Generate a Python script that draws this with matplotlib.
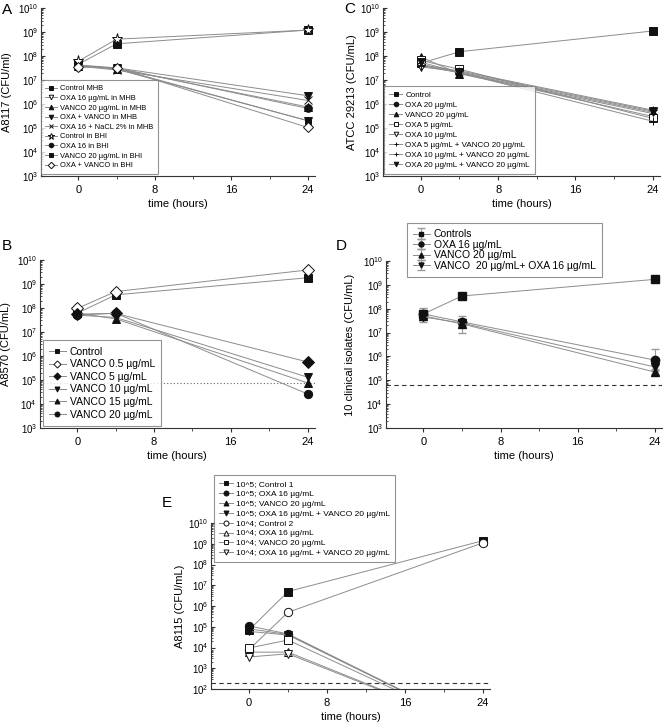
import numpy as np
import matplotlib.pyplot as plt
from matplotlib.ticker import LogLocator

plt.rcParams['font.family'] = ['Liberation Sans', 'DejaVu Sans']

hours = [0, 4, 24]

# panel A - A8117
a_labels = ["Control MHB", "OXA 16 µg/mL in MHB", "VANCO 20 µg/mL in MHB",
            "OXA + VANCO in MHB", "OXA 16 + NaCL 2% in MHB", "Control in BHI",
            "OXA 16 in BHI", "VANCO 20 µg/mL in BHI", "OXA + VANCO in BHI"]
a_control_mhb = [4.5e7, 3.2e8, 1.2e9]
a_oxa_mhb = [4.0e7, 2.8e7, 2.0e5]
a_vanco_mhb = [4.0e7, 3.0e7, 7.5e5]
a_combo_mhb = [4.2e7, 3.2e7, 2.2e6]
a_nacl_mhb = [3.8e7, 2.6e7, 1.4e6]
a_control_bhi = [6.0e7, 5.0e8, 1.2e9]
a_oxa_bhi = [3.5e7, 3.2e7, 6.5e5]
a_vanco_bhi = [4.0e7, 3.0e7, 2.0e5]
a_combo_bhi = [3.5e7, 3.2e7, 1.05e5]

# panel B - A8570
b_labels = ["Control", "VANCO 0.5 µg/mL", "VANCO 5 µg/mL", "VANCO 10 µg/mL",
            "VANCO 15 µg/mL", "VANCO 20 µg/mL"]
b_control = [6.0e7, 3.5e8, 1.8e9]
b_vanco05 = [9.5e7, 4.8e8, 3.8e9]
b_vanco5 = [5.5e7, 5.9e7, 5.6e5]
b_vanco10 = [5.0e7, 4.0e7, 1.3e5]
b_vanco15 = [6.0e7, 3.5e7, 7.5e4]
b_vanco20 = [5.0e7, 6.0e7, 2.6e4]
b_limit = 7.5e4

# panel C - ATCC 29213
c_labels = ["Control", "OXA 20 µg/mL", "VANCO 20 µg/mL", "OXA 5 µg/mL", "OXA 10 µg/mL",
            "OXA 5 µg/mL + VANCO 20 µg/mL", "OXA 10 µg/mL + VANCO 20 µg/mL",
            "OXA 20 µg/mL + VANCO 20 µg/mL"]
c_control = [5.0e7, 1.5e8, 1.1e9]
c_oxa20 = [4.5e7, 2.0e7, 3.0e5]
c_vanco20 = [9.0e7, 1.8e7, 4.0e5]
c_oxa5 = [6.5e7, 2.8e7, 2.5e5]
c_oxa10 = [3.5e7, 2.2e7, 5.0e5]
c_oxa5_vanco = [4.0e7, 2.0e7, 1.9e5]
c_oxa10_vanco = [4.2e7, 2.4e7, 5.5e5]
c_oxa20_vanco = [5.5e7, 2.0e7, 4.5e5]

# panel D - 10 clinical isolates (mean, lower, upper)
d_labels = ["Controls", "OXA 16 µg/mL", "VANCO 20 µg/mL", "VANCO  20 µg/mL+ OXA 16 µg/mL"]
d_controls = [6.0e7, 3.4e8, 1.7e9]
d_controls_lo = [4.5e7, 2.8e8, 1.3e9]
d_controls_hi = [8.0e7, 4.5e8, 2.4e9]
d_oxa = [6.0e7, 2.8e7, 7.0e5]
d_oxa_lo = [2.8e7, 1.0e7, 2.5e5]
d_oxa_hi = [1.1e8, 5.0e7, 2.0e6]
d_vanco = [5.0e7, 2.3e7, 2.2e5]
d_vanco_lo = [4.0e7, 1.8e7, 1.8e5]
d_vanco_hi = [6.0e7, 2.8e7, 2.8e5]
d_combo = [4.5e7, 2.5e7, 3.6e5]
d_combo_lo = [3.8e7, 2.0e7, 3.0e5]
d_combo_hi = [5.5e7, 3.0e7, 4.3e5]
d_limit = 6.3e4

# panel E - A8115 (24 h values below detection)
e_labels = ["10^5; Control 1", "10^5; OXA 16 µg/mL", "10^5; VANCO 20 µg/mL",
            "10^5; OXA 16 µg/mL + VANCO 20 µg/mL", "10^4; Control 2", "10^4; OXA 16 µg/mL",
            "10^4; VANCO 20 µg/mL", "10^4; OXA 16 µg/mL + VANCO 20 µg/mL"]
e_control1 = [7.0e4, 5.0e6, 1.4e9]
e_oxa_5 = [1.1e5, 4.5e4, 1.0]
e_vanco_5 = [8.0e4, 4.2e4, 1.0]
e_combo_5 = [6.0e4, 4.0e4, 1.0]
e_control2 = [8.0e3, 5.0e5, 1.1e9]
e_oxa_4 = [6.0e3, 6.0e3, 1.0]
e_vanco_4 = [9.5e3, 2.3e4, 1.0]
e_combo_4 = [3.5e3, 5.0e3, 1.0]
e_limit = 2.0e2

LINE = '#8c8c8c'
EDGE = '#111111'


def draw(ax, y, label, marker, filled, ms=5.5):
    ax.plot(hours, y, color=LINE, lw=0.7, marker=marker, ms=ms,
            mfc=EDGE if filled else 'white', mec=EDGE, mew=0.7, label=label)


def style(ax, ylo=1e3):
    ax.set_yscale('log')
    ax.set_ylim(ylo, 1e10)
    ax.set_xlim(-3.9, 24.75)
    ax.set_xticks([0, 8, 16, 24])
    ax.set_xticks([4, 12, 20], minor=True)
    ax.yaxis.set_major_locator(LogLocator(base=10, numticks=20))
    ax.yaxis.set_minor_locator(LogLocator(base=10, subs=np.arange(2, 10), numticks=20))
    for s in ['top', 'right']:
        ax.spines[s].set_visible(False)
    for s in ['left', 'bottom']:
        ax.spines[s].set_color('#333333')
        ax.spines[s].set_linewidth(0.8)
    ax.tick_params(axis='y', which='major', direction='in', length=3, labelsize=7, color='#333333', pad=2)
    ax.tick_params(axis='y', which='minor', direction='in', length=1.5, color='#333333')
    ax.tick_params(axis='x', which='major', direction='out', length=3, labelsize=8, color='#333333')
    ax.tick_params(axis='x', which='minor', direction='out', length=2, color='#333333')
    ax.set_xlabel("time (hours)", fontsize=8)
    ax.xaxis.set_label_coords(0.5, -0.14)


def legend(ax, fs, loc, anchor, spacing):
    leg = ax.legend(loc=loc, bbox_to_anchor=anchor, fontsize=fs, frameon=True, fancybox=False,
                    edgecolor='#777777', borderaxespad=0, handlelength=1.6, markerscale=0.6,
                    labelspacing=spacing, borderpad=0.6, handletextpad=0.4)
    leg.get_frame().set_linewidth(0.8)
    leg.set_zorder(5)


fig = plt.figure(figsize=(6.64, 7.24), dpi=100)

# A
ax = fig.add_axes([0.0617, 0.757, 0.4127, 0.232])
style(ax)
draw(ax, a_control_mhb, a_labels[0], 's', True)
draw(ax, a_oxa_mhb, a_labels[1], 'v', False)
draw(ax, a_vanco_mhb, a_labels[2], '^', True)
draw(ax, a_combo_mhb, a_labels[3], 'v', True)
draw(ax, a_nacl_mhb, a_labels[4], 'x', False)
draw(ax, a_control_bhi, a_labels[5], '*', False, ms=8)
draw(ax, a_oxa_bhi, a_labels[6], 'o', True)
draw(ax, a_vanco_bhi, a_labels[7], 's', True, ms=4.5)
draw(ax, a_combo_bhi, a_labels[8], 'D', False)
ax.set_ylabel("A8117 (CFU/ml)", fontsize=8)
ax.yaxis.set_label_coords(-0.105, 0.5)
legend(ax, 5.4, 'lower left', (0.0, 0.012), 0.32)

# C
ax = fig.add_axes([0.577, 0.757, 0.417, 0.232])
style(ax)
draw(ax, c_control, c_labels[0], 's', True)
draw(ax, c_oxa20, c_labels[1], 'o', True)
draw(ax, c_vanco20, c_labels[2], '^', True)
draw(ax, c_oxa5, c_labels[3], 's', False)
draw(ax, c_oxa10, c_labels[4], 'v', False)
draw(ax, c_oxa5_vanco, c_labels[5], '+', False)
draw(ax, c_oxa10_vanco, c_labels[6], '+', False)
draw(ax, c_oxa20_vanco, c_labels[7], 'v', True)
ax.set_ylabel("ATCC 29213 (CFU/mL)", fontsize=8)
ax.yaxis.set_label_coords(-0.094, 0.5)
legend(ax, 5.8, 'lower left', (0.004, 0.012), 0.3)

# B
ax = fig.add_axes([0.060, 0.409, 0.414, 0.232])
style(ax)
ax.axhline(b_limit, color='#666666', lw=0.8, ls=(0, (1, 2)))
draw(ax, b_control, b_labels[0], 's', True)
draw(ax, b_vanco05, b_labels[1], 'D', False, ms=6)
draw(ax, b_vanco5, b_labels[2], 'D', True, ms=6)
draw(ax, b_vanco10, b_labels[3], 'v', True, ms=6)
draw(ax, b_vanco15, b_labels[4], '^', True, ms=6)
draw(ax, b_vanco20, b_labels[5], 'o', True, ms=6)
ax.set_ylabel("A8570 (CFU/mL)", fontsize=8)
ax.yaxis.set_label_coords(-0.105, 0.5)
legend(ax, 7.5, 'lower left', (0.01, 0.012), 0.25)

# D
ax = fig.add_axes([0.581, 0.409, 0.416, 0.2305])
style(ax)
ax.axhline(d_limit, color='#333333', lw=0.8, ls=(0, (4, 3)))
d_sets = [(d_controls, d_controls_lo, d_controls_hi, 's'),
          (d_oxa, d_oxa_lo, d_oxa_hi, 'o'),
          (d_vanco, d_vanco_lo, d_vanco_hi, '^'),
          (d_combo, d_combo_lo, d_combo_hi, 'v')]
for lab, (m, lo, hi, mk) in zip(d_labels, d_sets):
    m, lo, hi = np.array(m), np.array(lo), np.array(hi)
    ax.errorbar(hours, m, yerr=[m - lo, hi - m], color=LINE, lw=0.7, ecolor='#999999',
                elinewidth=0.8, capsize=3, marker=mk, ms=6, mfc=EDGE, mec=EDGE, label=lab)
ax.set_ylabel("10 clinical isolates (CFU/mL)", fontsize=8)
ax.yaxis.set_label_coords(-0.112, 0.5)
legend(ax, 7.5, 'upper left', (0.076, 1.228), 0.05)

# E
ax = fig.add_axes([0.318, 0.0483, 0.420, 0.2293])
style(ax, ylo=1e2)
ax.axhline(e_limit, color='#333333', lw=0.8, ls=(0, (4, 3)))
draw(ax, e_control1, e_labels[0], 's', True, ms=6)
draw(ax, e_oxa_5, e_labels[1], 'o', True, ms=6)
draw(ax, e_vanco_5, e_labels[2], '^', True, ms=6)
draw(ax, e_combo_5, e_labels[3], 'v', True, ms=6)
draw(ax, e_control2, e_labels[4], 'o', False, ms=6)
draw(ax, e_oxa_4, e_labels[5], '^', False, ms=6)
draw(ax, e_vanco_4, e_labels[6], 's', False, ms=6)
draw(ax, e_combo_4, e_labels[7], 'v', False, ms=6)
ax.set_ylabel("A8115 (CFU/mL)", fontsize=8)
ax.yaxis.set_label_coords(-0.093, 0.5)
ax.xaxis.set_label_coords(0.5, -0.14)
legend(ax, 6.0, 'upper left', (0.011, 1.289), 0.25)

for lab, x, y in [("A", 0.003, 0.986), ("C", 0.518, 0.988), ("B", 0.003, 0.66),
                  ("D", 0.505, 0.66), ("E", 0.244, 0.305)]:
    fig.text(x, y, lab, fontsize=11, va='center', ha='left')

fig.savefig("out.png", dpi=100)
